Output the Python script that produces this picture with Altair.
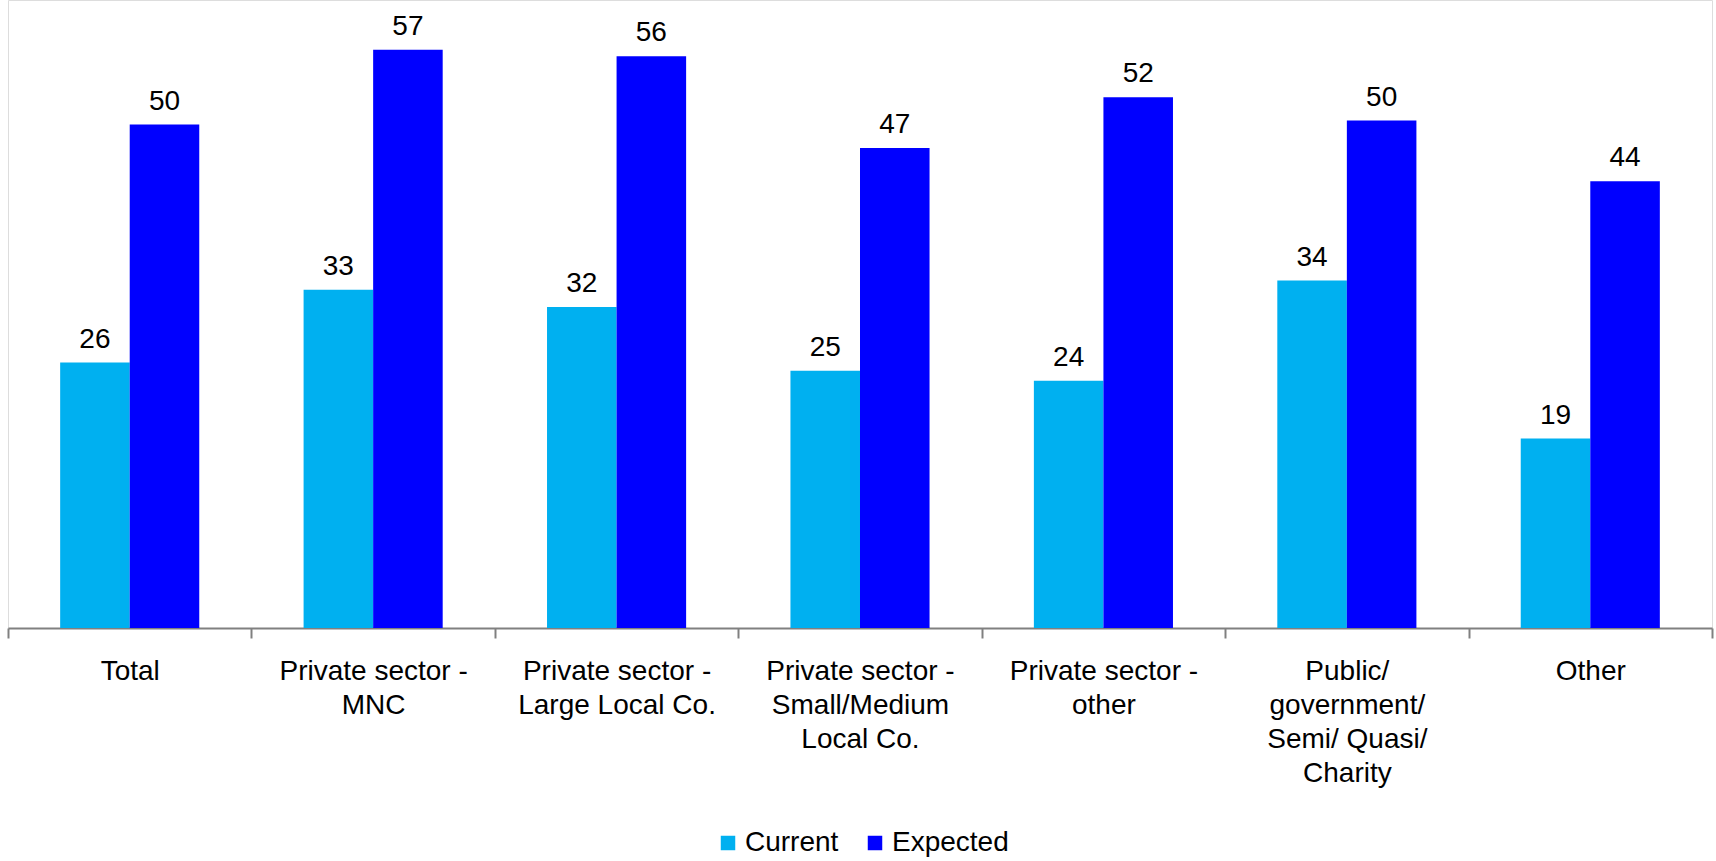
import altair as alt
import pandas as pd

categories = [
    "Total",
    "Private sector -\nMNC",
    "Private sector -\nLarge Local Co.",
    "Private sector -\nSmall/Medium\nLocal Co.",
    "Private sector -\nother",
    "Public/\ngovernment/\nSemi/ Quasi/\nCharity",
    "Other",
]
# values (labels show them rounded)
current = [26.2, 33.4, 31.7, 25.4, 24.4, 34.3, 18.7]
expected = [49.7, 57.1, 56.45, 47.4, 52.4, 50.1, 44.1]
series = ["Current", "Expected"]
colors = ["#00B0F0", "#0000FF"]

rows = []
for c, cu, ex in zip(categories, current, expected):
    rows.append({"cat": c, "series": "Current", "value": cu})
    rows.append({"cat": c, "series": "Expected", "value": ex})
df = pd.DataFrame(rows)

FONT = "Liberation Sans"

x = alt.X("cat:N", sort=categories, title=None,
          scale=alt.Scale(paddingInner=0, paddingOuter=0),
          axis=alt.Axis(labelExpr="split(datum.label, '\\n')", labelAngle=0,
                        labelFont=FONT, labelFontSize=28, labelColor="#000000",
                        labelLineHeight=34, labelPadding=19, labelBaseline="top",
                        labelLimit=0,
                        domainColor="#808080", domainWidth=2,
                        tickColor="#808080", tickWidth=2, tickSize=10,
                        tickBand="extent", grid=False))
xo = alt.XOffset("series:N", sort=series,
                 scale=alt.Scale(paddingInner=0, paddingOuter=0.75))
y = alt.Y("value:Q", scale=alt.Scale(domain=[0, 62], nice=False), axis=None)
color = alt.Color("series:N", sort=series,
                  scale=alt.Scale(domain=series, range=colors),
                  legend=alt.Legend(title=None, orient="none", direction="horizontal",
                                    legendX=706, legendY=829,
                                    symbolType="square", symbolSize=210,
                                    symbolStrokeWidth=0, labelFont=FONT,
                                    labelFontSize=28, labelColor="#000000",
                                    labelOffset=3, columnPadding=22))

bars = alt.Chart(df).mark_bar().encode(x=x, xOffset=xo, y=y, color=color)
labels = alt.Chart(df).mark_text(baseline="alphabetic", dy=-15, font=FONT,
                                 fontSize=28, color="#000000").encode(
    x=x, xOffset=xo, y=y, text=alt.Text("value:Q", format=".0f"))

chart = (bars + labels).properties(
    width=1704, height=628,
    autosize=alt.AutoSizeParams(type="none"),
    padding={"left": 8, "right": 4, "top": 0, "bottom": 233},
).configure_view(stroke=None).configure(background="white")

chart.save("out.html", embed_options={"renderer": "svg", "actions": False})
